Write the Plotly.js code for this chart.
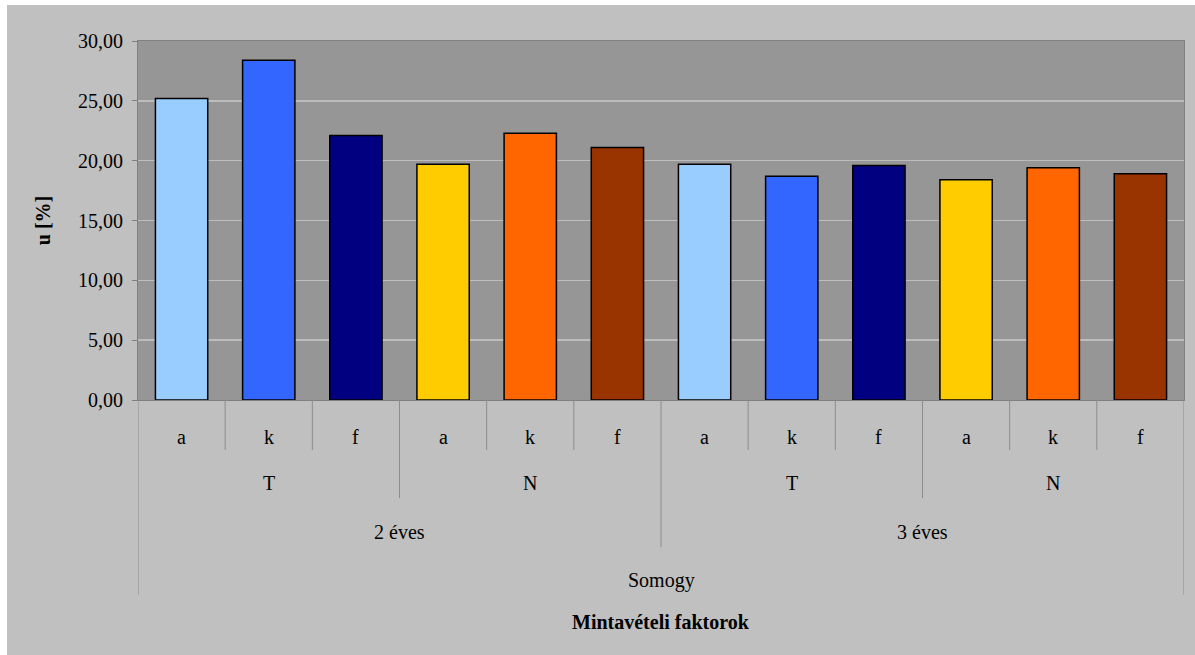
<!DOCTYPE html>
<html>
<head>
<meta charset="utf-8">
<script src="https://cdn.plot.ly/plotly-3.0.1.min.js"></script>
<style>
  html, body { margin: 0; padding: 0; background: #ffffff; }
  #chart { position: absolute; left: 7px; top: 5px; width: 1188px; height: 650px; }
</style>
</head>
<body>
<div id="chart"></div>
<script>
// ---- data ----
const level1 = ['a','k','f','a','k','f','a','k','f','a','k','f'];
const level2 = ['T','T','T','N','N','N','T','T','T','N','N','N'];
const level3 = ['2 éves','2 éves','2 éves','2 éves','2 éves','2 éves','3 éves','3 éves','3 éves','3 éves','3 éves','3 éves'];
const level4 = ['Somogy','Somogy','Somogy','Somogy','Somogy','Somogy','Somogy','Somogy','Somogy','Somogy','Somogy','Somogy'];
const values = [25.2, 28.4, 22.1, 19.7, 22.3, 21.1, 19.7, 18.7, 19.6, 18.4, 19.4, 18.9];
const barColors = ['#99ccff','#3366ff','#000080','#ffcc00','#ff6600','#993300',
                   '#99ccff','#3366ff','#000080','#ffcc00','#ff6600','#993300'];
const yTitle = 'u [%]';
const xTitle = 'Mintavételi faktorok';

// ---- build ----
const idx = values.map((v, i) => i);
const n = values.length;

// plot area: top 41px, bottom 400px -> height 359px
const plotTop = 41, plotBottom = 400, plotH = plotBottom - plotTop;
const py = p => (plotBottom - p) / plotH;

const fontFam = '"Liberation Serif", "DejaVu Serif", serif';
const sepColor = '#8c8c8c';

// group helper: returns runs of equal labels [{label, start, end}]
function runs(arr) {
  const out = [];
  let s = 0;
  for (let i = 1; i <= arr.length; i++) {
    if (i === arr.length || arr[i] !== arr[s] || (arr === level2 && level3[i] !== level3[s])) {
      out.push({label: arr[s], start: s, end: i - 1});
      s = i;
    }
  }
  return out;
}

const levels = [
  {arr: level1, labelY: py(437), sepEnd: py(450)},
  {arr: level2, labelY: py(483), sepEnd: py(498)},
  {arr: level3, labelY: py(532), sepEnd: py(547)},
  {arr: level4, labelY: py(580), sepEnd: py(595)}
];

const annotations = [];
const shapes = [];
const boundaryEnd = {};
levels.forEach(L => {
  runs(L.arr).forEach(r => {
    annotations.push({
      x: (r.start + r.end) / 2, xref: 'x', y: L.labelY, yref: 'paper',
      text: r.label, showarrow: false, xanchor: 'center', yanchor: 'middle',
      font: {family: fontFam, size: 20, color: '#000000'}
    });
    [r.start - 0.5, r.end + 0.5].forEach(b => {
      boundaryEnd[b] = Math.min(boundaryEnd[b] === undefined ? 1 : boundaryEnd[b], L.sepEnd);
    });
  });
});
Object.keys(boundaryEnd).forEach(k => {
  const b = parseFloat(k);
  shapes.push({
    type: 'line', xref: 'x', yref: 'paper', x0: b, x1: b, y0: 0, y1: boundaryEnd[k],
    line: {color: sepColor, width: 1}
  });
});

annotations.push({
  x: (n - 1) / 2, xref: 'x', y: py(622), yref: 'paper',
  text: '<b>' + xTitle + '</b>', showarrow: false, xanchor: 'center', yanchor: 'middle',
  font: {family: fontFam, size: 20, color: '#000000'}
});

const trace = {
  type: 'bar',
  x: idx,
  y: values,
  marker: {color: barColors, line: {color: '#000000', width: 1.5}},
  width: 0.6,
  hoverinfo: 'skip'
};

const layout = {
  width: 1188, height: 650,
  margin: {l: 131, r: 11, t: 36, b: 255, pad: 0},
  paper_bgcolor: '#c0c0c0',
  plot_bgcolor: '#969696',
  separators: ', ',
  showlegend: false,
  font: {family: fontFam, size: 20, color: '#000000'},
  xaxis: {
    range: [-0.5, n - 0.5],
    showticklabels: false,
    ticks: '',
    showgrid: false,
    zeroline: false,
    showline: true, linecolor: '#808080', linewidth: 1, mirror: true,
    fixedrange: true
  },
  yaxis: {
    range: [0, 30],
    dtick: 5,
    tick0: 0,
    tickformat: '.2f',
    ticks: 'outside', ticklen: 5, tickcolor: '#808080',
    ticklabelstandoff: 5,
    showline: true, linecolor: '#808080', linewidth: 1, mirror: true,
    showgrid: true, gridcolor: '#bdbdbd', gridwidth: 1.5,
    zeroline: false,
    tickfont: {family: fontFam, size: 20, color: '#000000'},
    title: {text: '<b>' + yTitle + '</b>', standoff: 22,
            font: {family: fontFam, size: 20, color: '#000000'}},
    automargin: false,
    fixedrange: true
  },
  annotations: annotations,
  shapes: shapes
};

Plotly.newPlot('chart', [trace], layout, {displayModeBar: false, staticPlot: true});
</script>
</body>
</html>
